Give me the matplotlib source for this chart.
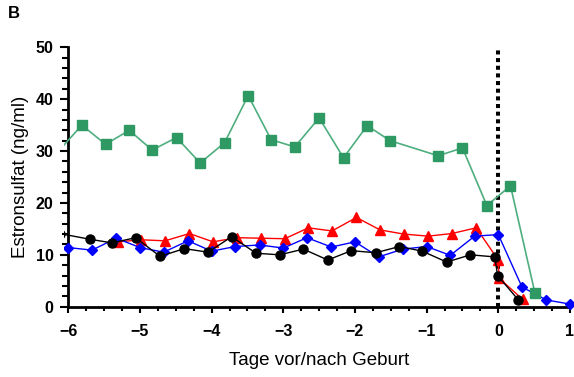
import matplotlib
matplotlib.use('Agg')
import matplotlib.pyplot as plt
from matplotlib.ticker import MultipleLocator
from matplotlib.transforms import Bbox, TransformedBbox

plt.rcParams['font.family'] = ['Liberation Sans', 'DejaVu Sans']

# Estronsulfat (ng/ml) per cow
green_x = [-6.17, -5.81, -5.48, -5.15, -4.83, -4.49, -4.16, -3.82, -3.49, -3.17, -2.84,
           -2.50, -2.16, -1.83, -1.51, -0.84, -0.50, -0.16, 0.17, 0.51]
green_y = [29.5, 35.0, 31.3, 34.0, 30.2, 32.6, 27.7, 31.6, 40.7, 32.2, 30.8,
           36.4, 28.7, 34.9, 32.0, 29.1, 30.6, 19.5, 23.3, 2.7]

red_x = [-5.30, -4.99, -4.65, -4.31, -3.98, -3.65, -3.31, -2.98, -2.65, -2.32,
         -1.98, -1.65, -1.32, -0.98, -0.65, -0.31, 0.00, 0.01, 0.34]
red_y = [12.5, 12.9, 12.7, 14.1, 12.5, 13.3, 13.2, 13.1, 15.2, 14.6,
         17.2, 14.8, 14.0, 13.6, 14.1, 15.2, 9.0, 5.5, 1.4]

blue_x = [-6.0, -5.67, -5.33, -5.0, -4.67, -4.33, -4.0, -3.67, -3.33, -3.0, -2.67,
          -2.33, -2.0, -1.67, -1.33, -1.0, -0.67, -0.33, 0.0, 0.33, 0.67, 1.0]
blue_y = [11.4, 10.9, 13.2, 11.4, 10.5, 12.7, 10.7, 11.6, 11.9, 11.3, 13.3,
          11.5, 12.5, 9.6, 11.1, 11.6, 9.9, 13.6, 13.9, 3.8, 1.3, 0.5]

black_x = [-6.12, -5.70, -5.39, -5.06, -4.72, -4.38, -4.05, -3.72, -3.38, -3.05, -2.72,
           -2.38, -2.05, -1.71, -1.38, -1.06, -0.72, -0.39, -0.05, -0.01, 0.28]
black_y = [14.1, 13.0, 12.3, 13.3, 9.7, 11.2, 10.5, 13.5, 10.3, 10.0, 11.1,
           9.0, 10.8, 10.4, 11.6, 10.7, 8.6, 10.0, 9.6, 6.0, 1.3]

fig = plt.figure(figsize=(5.74, 3.77), dpi=100)
ax = fig.add_axes([0.119, 0.1865, 0.874, 0.688])

# birth marker
ax.axvline(0, ymin=0, ymax=1, color='black', linewidth=2.9,
           linestyle=(0, (1, 0.9)), dash_capstyle='butt', zorder=1)

lines = []
lines += ax.plot(red_x, red_y, color='#ff0000', lw=1.0, marker='^', ms=7.5, mec='#ff0000', zorder=3)
lines += ax.plot(blue_x, blue_y, color='#0000ff', lw=1.0, marker='D', ms=5, mec='#0000ff', zorder=4)
lines += ax.plot(black_x, black_y, color='black', lw=1.0, marker='o', ms=6.5, zorder=5)
lines += ax.plot(green_x, green_y, color='#4fae7f', lw=1.2, marker='s', ms=6.5,
                 mfc='#2e9963', mec='#2e9963', zorder=6)

ax.set_xlim(-6, 1)
ax.set_ylim(0, 50)

# lines run slightly past the left spine in the original
clip = TransformedBbox(Bbox([[-6.055, -2], [1.2, 52]]), ax.transData)
for ln in lines:
    ln.set_clip_box(clip)

ax.xaxis.set_major_locator(MultipleLocator(1))
ax.xaxis.set_minor_locator(MultipleLocator(0.25))
ax.yaxis.set_major_locator(MultipleLocator(10))
ax.yaxis.set_minor_locator(MultipleLocator(2))

for side in ['top', 'right']:
    ax.spines[side].set_visible(False)
for side in ['left', 'bottom']:
    ax.spines[side].set_linewidth(2.0)

ax.tick_params(axis='x', which='major', direction='out', length=4.5, width=1.5, pad=8)
ax.tick_params(axis='x', which='minor', direction='out', length=3, width=1.5)
ax.tick_params(axis='y', which='major', direction='out', length=5.5, width=1.5, pad=5)
ax.tick_params(axis='y', which='minor', direction='out', length=4.3, width=1.5)
for lab in ax.get_xticklabels() + ax.get_yticklabels():
    lab.set_fontsize(11.5)
    lab.set_fontweight('bold')

ax.set_xlabel('Tage vor/nach Geburt', fontsize=13.5, labelpad=9)
ax.set_ylabel('Estronsulfat (ng/ml)', fontsize=13.5, labelpad=5)

fig.text(0.014, 0.985, 'B', fontsize=12, fontweight='bold', va='top', ha='left')

fig.savefig('out.png', dpi=100)
